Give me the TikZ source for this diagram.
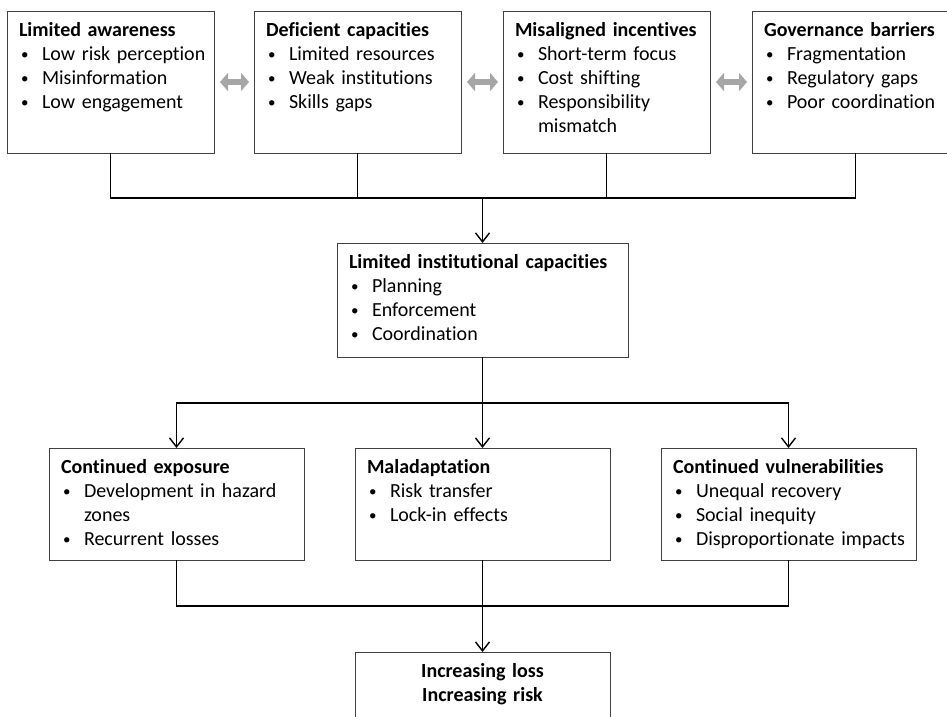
\documentclass[tikz,border=0pt]{standalone}
\usepackage{fontspec}
\setmainfont{Carlito}[Ligatures=NoCommon]
\usetikzlibrary{arrows.meta, positioning}
\tikzset {
    x=1pt, y=-1pt,
    >={Straight Barb[length=9pt,width=14pt]},
    box/.style={draw=black!75, line width=0.9pt, align=left, inner xsep=12pt, inner ysep=0pt, outer sep=0pt,
        text height=25pt, font=\fontsize{20}{24}\selectfont},
    topbox/.style={box, text width=183pt, text depth=117pt},
    midbox/.style={box, text width=231pt, text depth=87pt},
    link/.style={line width=1.4pt, black},
    twoway/.style={line width=6pt, black!35, {Triangle[length=8pt,width=18pt]}-{Triangle[length=8pt,width=18pt]},
        shorten <=6pt, shorten >=5pt}
}
\newcommand{\bul}[1]{\\\mbox{\makebox[23pt][l]{\hspace{2pt}\raisebox{1pt}{\fontsize{15}{15}\selectfont\textbullet}}#1}}
\newcommand{\more}[1]{\\\mbox{\hspace{23pt}#1}}

\begin{document}
\begin{tikzpicture}
    \useasboundingbox (0,0) rectangle (947,716);
    \clip (0,0) rectangle (947,716);

    % drivers
    \node[topbox, anchor=north west] (aware) at (7,11)
        {\textbf{Limited awareness}\bul{Low risk perception}\bul{Misinformation}\bul{Low engagement}};
    \node[topbox, right=40pt of aware] (capac)
        {\textbf{Deficient capacities}\bul{Limited resources}\bul{Weak institutions}\bul{Skills gaps}};
    \node[topbox, right=42pt of capac] (incent)
        {\textbf{Misaligned incentives}\bul{Short-term focus}\bul{Cost shifting}\bul{Responsibility}\more{mismatch}};
    \node[topbox, right=42pt of incent] (barrier)
        {\textbf{Governance barriers}\bul{Fragmentation}\bul{Regulatory gaps}\bul{Poor coordination}};

    \draw[twoway] (aware) -- (capac);
    \draw[twoway] (capac) -- (incent);
    \draw[twoway] (incent) -- (barrier);

    % institutions
    \node[box, text width=267pt, text depth=89pt, anchor=north west] (inst) at (337,243)
        {\textbf{Limited institutional capacities}\bul{Planning}\bul{Enforcement}\bul{Coordination}};

    % outcomes
    \node[midbox, anchor=north west] (expo) at (49,448)
        {\textbf{Continued exposure}\bul{Development in hazard}\more{zones}\bul{Recurrent losses}};
    \node[midbox, right=51pt of expo] (malad)
        {\textbf{Maladaptation}\bul{Risk transfer}\bul{Lock-in effects}};
    \node[midbox, right=51pt of malad] (vuln)
        {\textbf{Continued vulnerabilities}\bul{Unequal recovery}\bul{Social inequity}\bul{Disproportionate impacts}};

    \node[box, align=center, text width=231pt, text depth=90pt, anchor=north west] (result) at (355,652)
        {\textbf{Increasing loss}\\\textbf{Increasing risk}};

    \coordinate (bus) at (inst.north |- 0,198);
    \coordinate (split) at (inst.south |- 0,403);
    \coordinate (merge) at (result.north |- 0,606);

    \draw[link] (aware.south) |- (bus) -| (barrier.south);
    \draw[link] (capac.south) -- (capac.south |- bus);
    \draw[link] (incent.south) -- (incent.south |- bus);
    \draw[link, ->] (bus) -- (inst.north);

    \draw[link] (inst.south) -- (split);
    \draw[link, ->] (split) -| (expo.north);
    \draw[link, ->] (split) -| (vuln.north);
    \draw[link, ->] (split) -- (malad.north);

    \draw[link] (expo.south) |- (merge) -| (vuln.south);
    \draw[link] (malad.south) -- (merge);
    \draw[link, ->] (merge) -- (result.north);
\end{tikzpicture}
\end{document}
